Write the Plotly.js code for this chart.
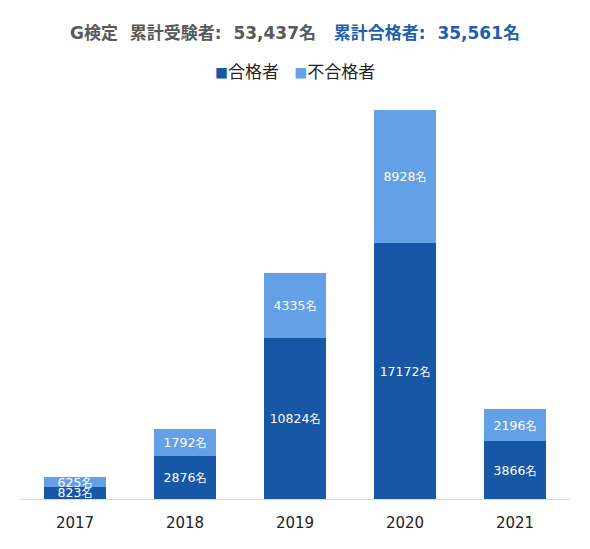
<!DOCTYPE html>
<html><head><meta charset="utf-8">
<script src="https://cdn.plot.ly/plotly-3.0.1.min.js"></script>
<style>body{margin:0;background:#fff}#c{width:590px;height:549px}</style>
</head><body><div id="c"></div>
<script>
var years = ['2017', '2018', '2019', '2020', '2021'];
var passed = [823, 2876, 10824, 17172, 3866];
var failed = [625, 1792, 4335, 8928, 2196];
var seriesNames = ['合格者', '不合格者'];
var totalExaminees = '53,437';
var totalPassed = '35,561';
var colors = ['#1757a6', '#63a0e6'];

function labels(arr) {
  return arr.map(function (v) { return v + '<span style="font-size:11px">名</span>'; });
}
var numFont = 'DejaVu Sans, Verdana, sans-serif';
var cjk = '"Noto Sans CJK JP", sans-serif';

var common = {
  type: 'bar', x: years, textposition: 'inside', insidetextanchor: 'middle',
  constraintext: 'none', textangle: 0, hoverinfo: 'skip', showlegend: false,
  textfont: {family: numFont + ',' + cjk, size: 12.5, color: '#ffffff'}
};
var t1 = Object.assign({}, common, {
  name: seriesNames[0], y: passed, text: labels(passed),
  marker: {color: colors[0]}
});
var t2 = Object.assign({}, common, {
  name: seriesNames[1], y: failed, text: labels(failed),
  marker: {color: colors[1]}
});

var legendText = '<span style="color:' + colors[0] + ';font-size:13px">■</span>' + seriesNames[0] +
  '&nbsp;&nbsp;&nbsp;&nbsp;<span style="color:' + colors[1] + ';font-size:13px">■</span>' + seriesNames[1];

var layout = {
  width: 590, height: 549, barmode: 'stack', bargap: 0.44,
  margin: {l: 20, r: 20, t: 100, b: 50},
  paper_bgcolor: '#fff', plot_bgcolor: '#fff', showlegend: false,
  title: {
    text: '<span style="color:#595959">G検定&nbsp;&nbsp;累計受験者:&nbsp;&nbsp;' + totalExaminees + '名</span>&nbsp;&nbsp;&nbsp;<span style="color:#1f5fad">累計合格者:&nbsp;&nbsp;' + totalPassed + '名</span>',
    font: {family: numFont + ',' + cjk, size: 17, weight: 'bold'},
    x: 0.5, xanchor: 'center', y: 0.94, yanchor: 'middle'
  },
  annotations: [{
    text: legendText, xref: 'paper', yref: 'paper', x: 0.5, y: 1.075,
    xanchor: 'center', yanchor: 'middle', showarrow: false,
    font: {family: cjk, size: 17, color: '#222'}
  }],
  xaxis: {
    type: 'category', showgrid: false, showline: true, linecolor: '#d9d9d9', linewidth: 1,
    ticks: '', tickfont: {family: numFont, size: 15, color: '#222'}, ticklabelstandoff: 10
  },
  yaxis: {range: [0, 26780], visible: false, fixedrange: true}
};
Plotly.newPlot('c', [t1, t2], layout, {displayModeBar: false, staticPlot: true});
</script></body></html>
